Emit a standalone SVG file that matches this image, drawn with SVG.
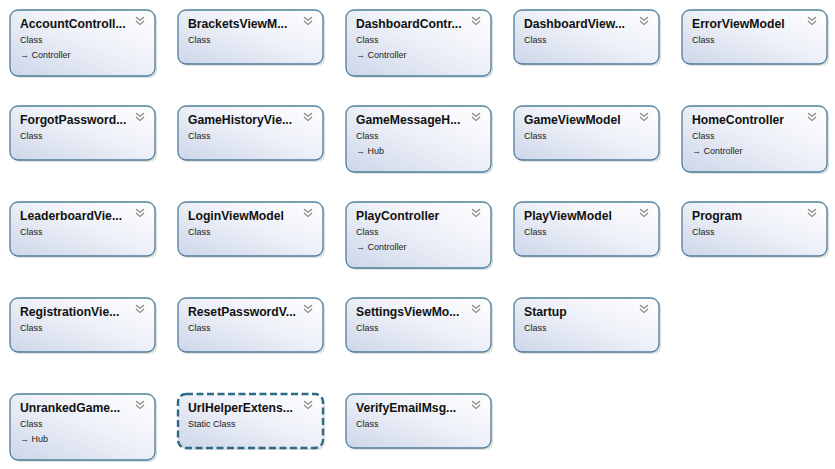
<svg xmlns="http://www.w3.org/2000/svg" width="835" height="469" viewBox="0 0 835 469">
<style>
.box{fill:url(#g);stroke:#4f7f99;stroke-width:1.3}
.sbox{fill:url(#g);stroke:#2f6a85;stroke-width:2.4;stroke-dasharray:7 3.5}
.sh{fill:#a7b0b8;opacity:0.4}
.t{font-family:"Liberation Sans",Arial,sans-serif;font-size:12.2px;font-weight:bold;fill:#111}
.s{font-family:"Liberation Sans",Arial,sans-serif;font-size:9px;fill:#222}
.chev{fill:none;stroke:#8c8c8c;stroke-width:1.2}
</style>
<defs>
<linearGradient id="g" x1="1" y1="0" x2="0" y2="1">
<stop offset="0" stop-color="#ffffff"/>
<stop offset="0.45" stop-color="#eef1f8"/>
<stop offset="1" stop-color="#cdd6e9"/>
</linearGradient>
<g id="cv"><path class="chev" d="M-4,0 L0,3.5 L4,0 M-4,4 L0,7.5 L4,4"/></g>
</defs>
<rect width="835" height="469" fill="#ffffff"/>
<g id="connectors"/>

<g id="AccountController" transform="translate(10,10)"><rect class="sh" x="2" y="2" width="145" height="66" rx="8"/><rect class="box" width="145" height="66" rx="8"/><text class="t" x="10" y="18">AccountControll...</text><use href="#cv" x="130" y="7"/><text class="s" x="10" y="33">Class</text><text class="s" x="10" y="48">→ Controller</text></g>
<g id="BracketsViewModel" transform="translate(178,10)"><rect class="sh" x="2" y="2" width="145" height="54" rx="8"/><rect class="box" width="145" height="54" rx="8"/><text class="t" x="10" y="18">BracketsViewM...</text><use href="#cv" x="130" y="7"/><text class="s" x="10" y="33">Class</text></g>
<g id="DashboardController" transform="translate(346,10)"><rect class="sh" x="2" y="2" width="145" height="66" rx="8"/><rect class="box" width="145" height="66" rx="8"/><text class="t" x="10" y="18">DashboardContr...</text><use href="#cv" x="130" y="7"/><text class="s" x="10" y="33">Class</text><text class="s" x="10" y="48">→ Controller</text></g>
<g id="DashboardViewModel" transform="translate(514,10)"><rect class="sh" x="2" y="2" width="145" height="54" rx="8"/><rect class="box" width="145" height="54" rx="8"/><text class="t" x="10" y="18">DashboardView...</text><use href="#cv" x="130" y="7"/><text class="s" x="10" y="33">Class</text></g>
<g id="ErrorViewModel" transform="translate(682,10)"><rect class="sh" x="2" y="2" width="145" height="54" rx="8"/><rect class="box" width="145" height="54" rx="8"/><text class="t" x="10" y="18">ErrorViewModel</text><use href="#cv" x="130" y="7"/><text class="s" x="10" y="33">Class</text></g>

<g id="ForgotPasswordViewModel" transform="translate(10,106)"><rect class="sh" x="2" y="2" width="145" height="54" rx="8"/><rect class="box" width="145" height="54" rx="8"/><text class="t" x="10" y="18">ForgotPassword...</text><use href="#cv" x="130" y="7"/><text class="s" x="10" y="33">Class</text></g>
<g id="GameHistoryViewModel" transform="translate(178,106)"><rect class="sh" x="2" y="2" width="145" height="54" rx="8"/><rect class="box" width="145" height="54" rx="8"/><text class="t" x="10" y="18">GameHistoryVie...</text><use href="#cv" x="130" y="7"/><text class="s" x="10" y="33">Class</text></g>
<g id="GameMessageHub" transform="translate(346,106)"><rect class="sh" x="2" y="2" width="145" height="66" rx="8"/><rect class="box" width="145" height="66" rx="8"/><text class="t" x="10" y="18">GameMessageH...</text><use href="#cv" x="130" y="7"/><text class="s" x="10" y="33">Class</text><text class="s" x="10" y="48">→ Hub</text></g>
<g id="GameViewModel" transform="translate(514,106)"><rect class="sh" x="2" y="2" width="145" height="54" rx="8"/><rect class="box" width="145" height="54" rx="8"/><text class="t" x="10" y="18">GameViewModel</text><use href="#cv" x="130" y="7"/><text class="s" x="10" y="33">Class</text></g>
<g id="HomeController" transform="translate(682,106)"><rect class="sh" x="2" y="2" width="145" height="66" rx="8"/><rect class="box" width="145" height="66" rx="8"/><text class="t" x="10" y="18">HomeController</text><use href="#cv" x="130" y="7"/><text class="s" x="10" y="33">Class</text><text class="s" x="10" y="48">→ Controller</text></g>

<g id="LeaderboardViewModel" transform="translate(10,202)"><rect class="sh" x="2" y="2" width="145" height="54" rx="8"/><rect class="box" width="145" height="54" rx="8"/><text class="t" x="10" y="18">LeaderboardVie...</text><use href="#cv" x="130" y="7"/><text class="s" x="10" y="33">Class</text></g>
<g id="LoginViewModel" transform="translate(178,202)"><rect class="sh" x="2" y="2" width="145" height="54" rx="8"/><rect class="box" width="145" height="54" rx="8"/><text class="t" x="10" y="18">LoginViewModel</text><use href="#cv" x="130" y="7"/><text class="s" x="10" y="33">Class</text></g>
<g id="PlayController" transform="translate(346,202)"><rect class="sh" x="2" y="2" width="145" height="66" rx="8"/><rect class="box" width="145" height="66" rx="8"/><text class="t" x="10" y="18">PlayController</text><use href="#cv" x="130" y="7"/><text class="s" x="10" y="33">Class</text><text class="s" x="10" y="48">→ Controller</text></g>
<g id="PlayViewModel" transform="translate(514,202)"><rect class="sh" x="2" y="2" width="145" height="54" rx="8"/><rect class="box" width="145" height="54" rx="8"/><text class="t" x="10" y="18">PlayViewModel</text><use href="#cv" x="130" y="7"/><text class="s" x="10" y="33">Class</text></g>
<g id="Program" transform="translate(682,202)"><rect class="sh" x="2" y="2" width="145" height="54" rx="8"/><rect class="box" width="145" height="54" rx="8"/><text class="t" x="10" y="18">Program</text><use href="#cv" x="130" y="7"/><text class="s" x="10" y="33">Class</text></g>

<g id="RegistrationViewModel" transform="translate(10,298)"><rect class="sh" x="2" y="2" width="145" height="54" rx="8"/><rect class="box" width="145" height="54" rx="8"/><text class="t" x="10" y="18">RegistrationVie...</text><use href="#cv" x="130" y="7"/><text class="s" x="10" y="33">Class</text></g>
<g id="ResetPasswordViewModel" transform="translate(178,298)"><rect class="sh" x="2" y="2" width="145" height="54" rx="8"/><rect class="box" width="145" height="54" rx="8"/><text class="t" x="10" y="18">ResetPasswordV...</text><use href="#cv" x="130" y="7"/><text class="s" x="10" y="33">Class</text></g>
<g id="SettingsViewModel" transform="translate(346,298)"><rect class="sh" x="2" y="2" width="145" height="54" rx="8"/><rect class="box" width="145" height="54" rx="8"/><text class="t" x="10" y="18">SettingsViewMo...</text><use href="#cv" x="130" y="7"/><text class="s" x="10" y="33">Class</text></g>
<g id="Startup" transform="translate(514,298)"><rect class="sh" x="2" y="2" width="145" height="54" rx="8"/><rect class="box" width="145" height="54" rx="8"/><text class="t" x="10" y="18">Startup</text><use href="#cv" x="130" y="7"/><text class="s" x="10" y="33">Class</text></g>

<g id="UnrankedGameHub" transform="translate(10,394)"><rect class="sh" x="2" y="2" width="145" height="66" rx="8"/><rect class="box" width="145" height="66" rx="8"/><text class="t" x="10" y="18">UnrankedGame...</text><use href="#cv" x="130" y="7"/><text class="s" x="10" y="33">Class</text><text class="s" x="10" y="48">→ Hub</text></g>
<g id="UrlHelperExtensions" transform="translate(178,394)"><rect class="sh" x="2" y="2" width="145" height="54" rx="8"/><rect class="sbox" width="145" height="54" rx="8"/><text class="t" x="10" y="18">UrlHelperExtens...</text><use href="#cv" x="130" y="7"/><text class="s" x="10" y="33">Static Class</text></g>
<g id="VerifyEmailMsgViewModel" transform="translate(346,394)"><rect class="sh" x="2" y="2" width="145" height="54" rx="8"/><rect class="box" width="145" height="54" rx="8"/><text class="t" x="10" y="18">VerifyEmailMsg...</text><use href="#cv" x="130" y="7"/><text class="s" x="10" y="33">Class</text></g>
</svg>
